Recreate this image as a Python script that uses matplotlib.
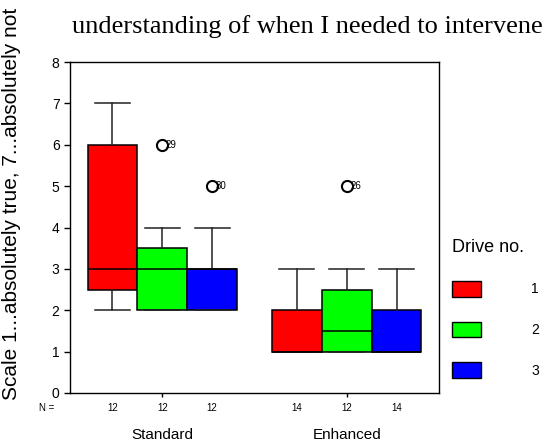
import numpy as np
import matplotlib.pyplot as plt
from matplotlib.patches import Patch

# summary stats, order: Standard d1,d2,d3, Enhanced d1,d2,d3
groups = ["Standard", "Enhanced"]
drives = ["1", "2", "3"]
colors = ["#ff0000", "#00ff00", "#0000ff"]
q1 = [2.5, 2, 2, 1, 1, 1]
med = [3, 3, 3, 1, 1.5, 1]
q3 = [6, 3.5, 3, 2, 2.5, 2]
whislo = [2, 2, 2, 1, 1, 1]
whishi = [7, 4, 4, 3, 3, 3]
fliers = [[], [6], [5], [], [5], []]
flier_ids = [[], ["29"], ["30"], [], ["26"], []]
counts = [12, 12, 12, 14, 12, 14]

plt.rcParams["font.family"] = "Liberation Sans"
fig = plt.figure(figsize=(5.44, 4.42), dpi=100)
ax = fig.add_axes([70 / 544, 1 - 393 / 442, 369 / 544, 331 / 442])

w = 0.27
pos = []
for g in range(len(groups)):
    for d in range(len(drives)):
        pos.append(g + 1 + (d - 1) * w)

stats = []
for i in range(len(pos)):
    stats.append(dict(q1=q1[i], med=med[i], q3=q3[i], whislo=whislo[i],
                      whishi=whishi[i], fliers=fliers[i]))

bp = ax.bxp(stats, positions=pos, widths=w, patch_artist=True,
            boxprops=dict(linewidth=1.1, edgecolor="black"),
            medianprops=dict(color="black", linewidth=1.1),
            whiskerprops=dict(color="#222222", linewidth=1.1),
            capprops=dict(color="#222222", linewidth=1.1),
            capwidths=w * 0.7,
            flierprops=dict(marker="o", markersize=8, markerfacecolor="white",
                            markeredgecolor="black", markeredgewidth=1.5))
for i, box in enumerate(bp["boxes"]):
    box.set_facecolor(colors[i % 3])

for i in range(len(pos)):
    for v, lab in zip(fliers[i], flier_ids[i]):
        ax.text(pos[i] + 0.02, v, lab, fontsize=7, va="center", ha="left")

ax.set_xlim(0.5, 2.5)
ax.set_ylim(0, 8)
ax.set_yticks(range(0, 9))
ax.tick_params(axis="y", labelsize=10, length=4, width=1)
ax.set_xticks([1, 2])
ax.set_xticklabels(groups, fontsize=11)
ax.tick_params(axis="x", length=3, width=1, pad=22)
for s in ax.spines.values():
    s.set_linewidth(1)

# N = row
ax.text(0.375, -0.045, "N =", transform=ax.get_xaxis_transform(),
        fontsize=7, ha="center", va="center")
for i in range(len(pos)):
    ax.text(pos[i], -0.045, str(counts[i]), transform=ax.get_xaxis_transform(),
            fontsize=7, ha="center", va="center")

fig.text(72 / 544, 1 - 33 / 442, "understanding of when I needed to intervene",
         family="Liberation Serif", fontsize=19, ha="left", va="baseline")
fig.text(12 / 544, 1 - 400 / 442, "Scale 1...absolutely true, 7...absolutely not",
         fontsize=15, rotation=90, ha="center", va="bottom")

handles = [Patch(facecolor=c, edgecolor="black", linewidth=1) for c in colors]
leg = fig.legend(handles, drives, loc="upper left",
                 bbox_to_anchor=(445 / 544, 1 - 232 / 442),
                 frameon=False, title="Drive no.", title_fontsize=13,
                 fontsize=10, handlelength=2.1, handleheight=1.37,
                 labelspacing=1.8, handletextpad=3.6, borderpad=0,
                 alignment="left")

fig.savefig("out.png", dpi=100)
